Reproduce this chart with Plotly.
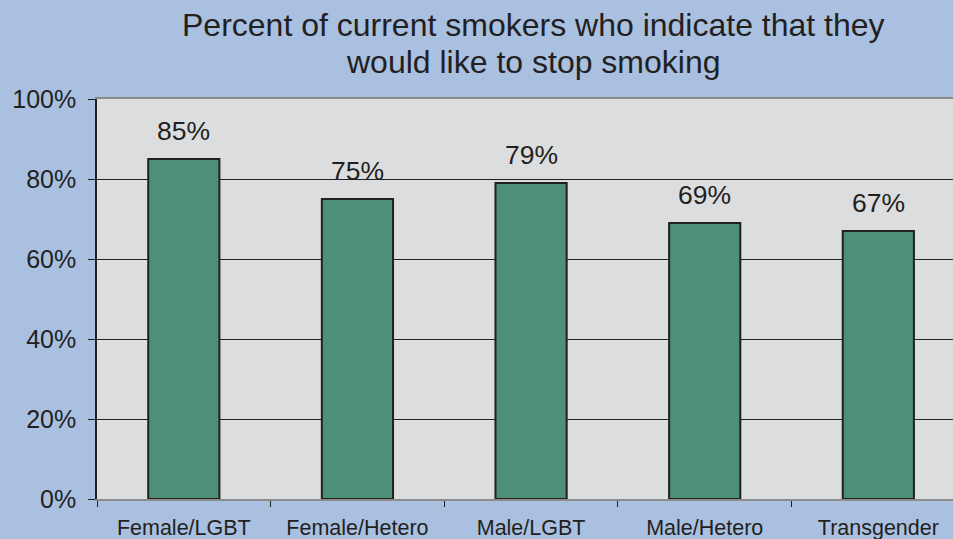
import plotly.graph_objects as go

categories = ["Female/LGBT", "Female/Hetero", "Male/LGBT", "Male/Hetero", "Transgender"]
values = [85, 75, 79, 69, 67]
labels = ["85%", "75%", "79%", "69%", "67%"]
y_ticks = [0, 20, 40, 60, 80, 100]
y_tick_labels = ["0%", "20%", "40%", "60%", "80%", "100%"]
title_lines = ["Percent of current smokers who indicate that they", "would like to stop smoking"]

FONT = "Liberation Sans, Arial, sans-serif"
TXT = "#231f20"

W, H = 953, 539
L, R, T, B = 97, 0, 99, 40
ph = H - T - B
pw = W - L - R

fig = go.Figure()
fig.add_trace(go.Bar(
    x=categories, y=values, width=0.41,
    marker=dict(color="#4d8f77", line=dict(color="#231f20", width=2)),
    hoverinfo="skip",
))

for c, v, t in zip(categories, values, labels):
    fig.add_annotation(x=c, y=v, text=t, showarrow=False, yanchor="middle",
                       yshift=28, font=dict(family=FONT, size=26.5, color=TXT))

for line, py in zip(title_lines, [25, 62]):
    fig.add_annotation(x=(533 - L) / pw, y=(H - B - py) / ph, xref="paper", yref="paper",
                       text=line, showarrow=False, xanchor="center", yanchor="middle",
                       font=dict(family=FONT, size=32, color=TXT))

fig.update_layout(
    width=W, height=H,
    paper_bgcolor="#a9c0e1",
    plot_bgcolor="#dcdddf",
    margin=dict(l=L, r=R, t=T, b=B),
    showlegend=False,
)
fig.update_xaxes(
    type="category",
    range=[-0.5, 4.43],
    showline=True, linecolor="#8c8c8c", linewidth=2, mirror=True,
    ticks="outside", tickson="boundaries", ticklen=6, tickcolor="#231f20",
    tickfont=dict(family=FONT, size=21.5, color=TXT),
    ticklabelstandoff=8,
    showgrid=False,
)
fig.update_yaxes(
    range=[0, 100],
    tickvals=y_ticks, ticktext=y_tick_labels,
    showline=True, linecolor="#231f20", linewidth=1.5,
    ticks="outside", ticklen=7, tickcolor="#231f20",
    tickfont=dict(family=FONT, size=25, color=TXT),
    ticklabelstandoff=7,
    showgrid=True, gridcolor="#231f20", gridwidth=1,
    zeroline=False,
)

fig.write_html("out.html", config={"displayModeBar": False},
               post_script="document.body.style.margin='0';document.body.style.overflow='hidden';")
